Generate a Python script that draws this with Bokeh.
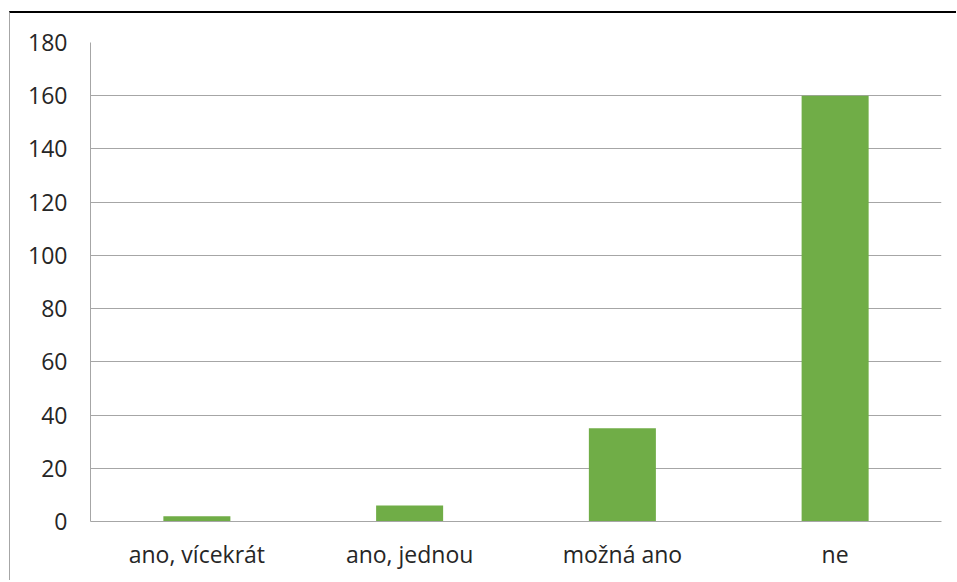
from bokeh.plotting import figure
from bokeh.models import FactorRange, Range1d, FixedTicker
from bokeh.embed import file_html
from bokeh.resources import INLINE

categories = ["ano, vícekrát", "ano, jednou", "možná ano", "ne"]
values = [2, 6, 35, 160]
y_ticks = [0, 20, 40, 60, 80, 100, 120, 140, 160, 180]

p = figure(x_range=FactorRange(*categories, range_padding=0),
           y_range=Range1d(0, 180),
           width=947, height=569, output_backend="svg", toolbar_location=None,
           min_border_left=80, min_border_right=16, min_border_top=29, min_border_bottom=61)

p.vbar(x=categories, top=values, width=0.315, fill_color="#70ad47", line_color=None)

p.outline_line_color = None
p.background_fill_color = "white"
p.border_fill_color = "white"

p.xgrid.grid_line_color = None
p.ygrid.grid_line_color = "#a6a6a6"
p.ygrid.grid_line_width = 1
p.yaxis.ticker = FixedTicker(ticks=y_ticks)

font = "Open Sans"
for ax in (p.xaxis, p.yaxis):
    ax.axis_line_color = "#a6a6a6"
    ax.major_tick_line_color = None
    ax.minor_tick_line_color = None
    ax.major_label_text_font = font
    ax.major_label_text_font_size = "23px"
    ax.major_label_text_color = "#262626"

p.yaxis.major_label_standoff = 17
p.xaxis.major_label_standoff = 10

p.styles = {"border-top": "2px solid black", "border-left": "1px solid #a6a6a6",
            "margin-top": "11px", "margin-left": "9px"}

open("out.html", "w").write(file_html(p, INLINE))
